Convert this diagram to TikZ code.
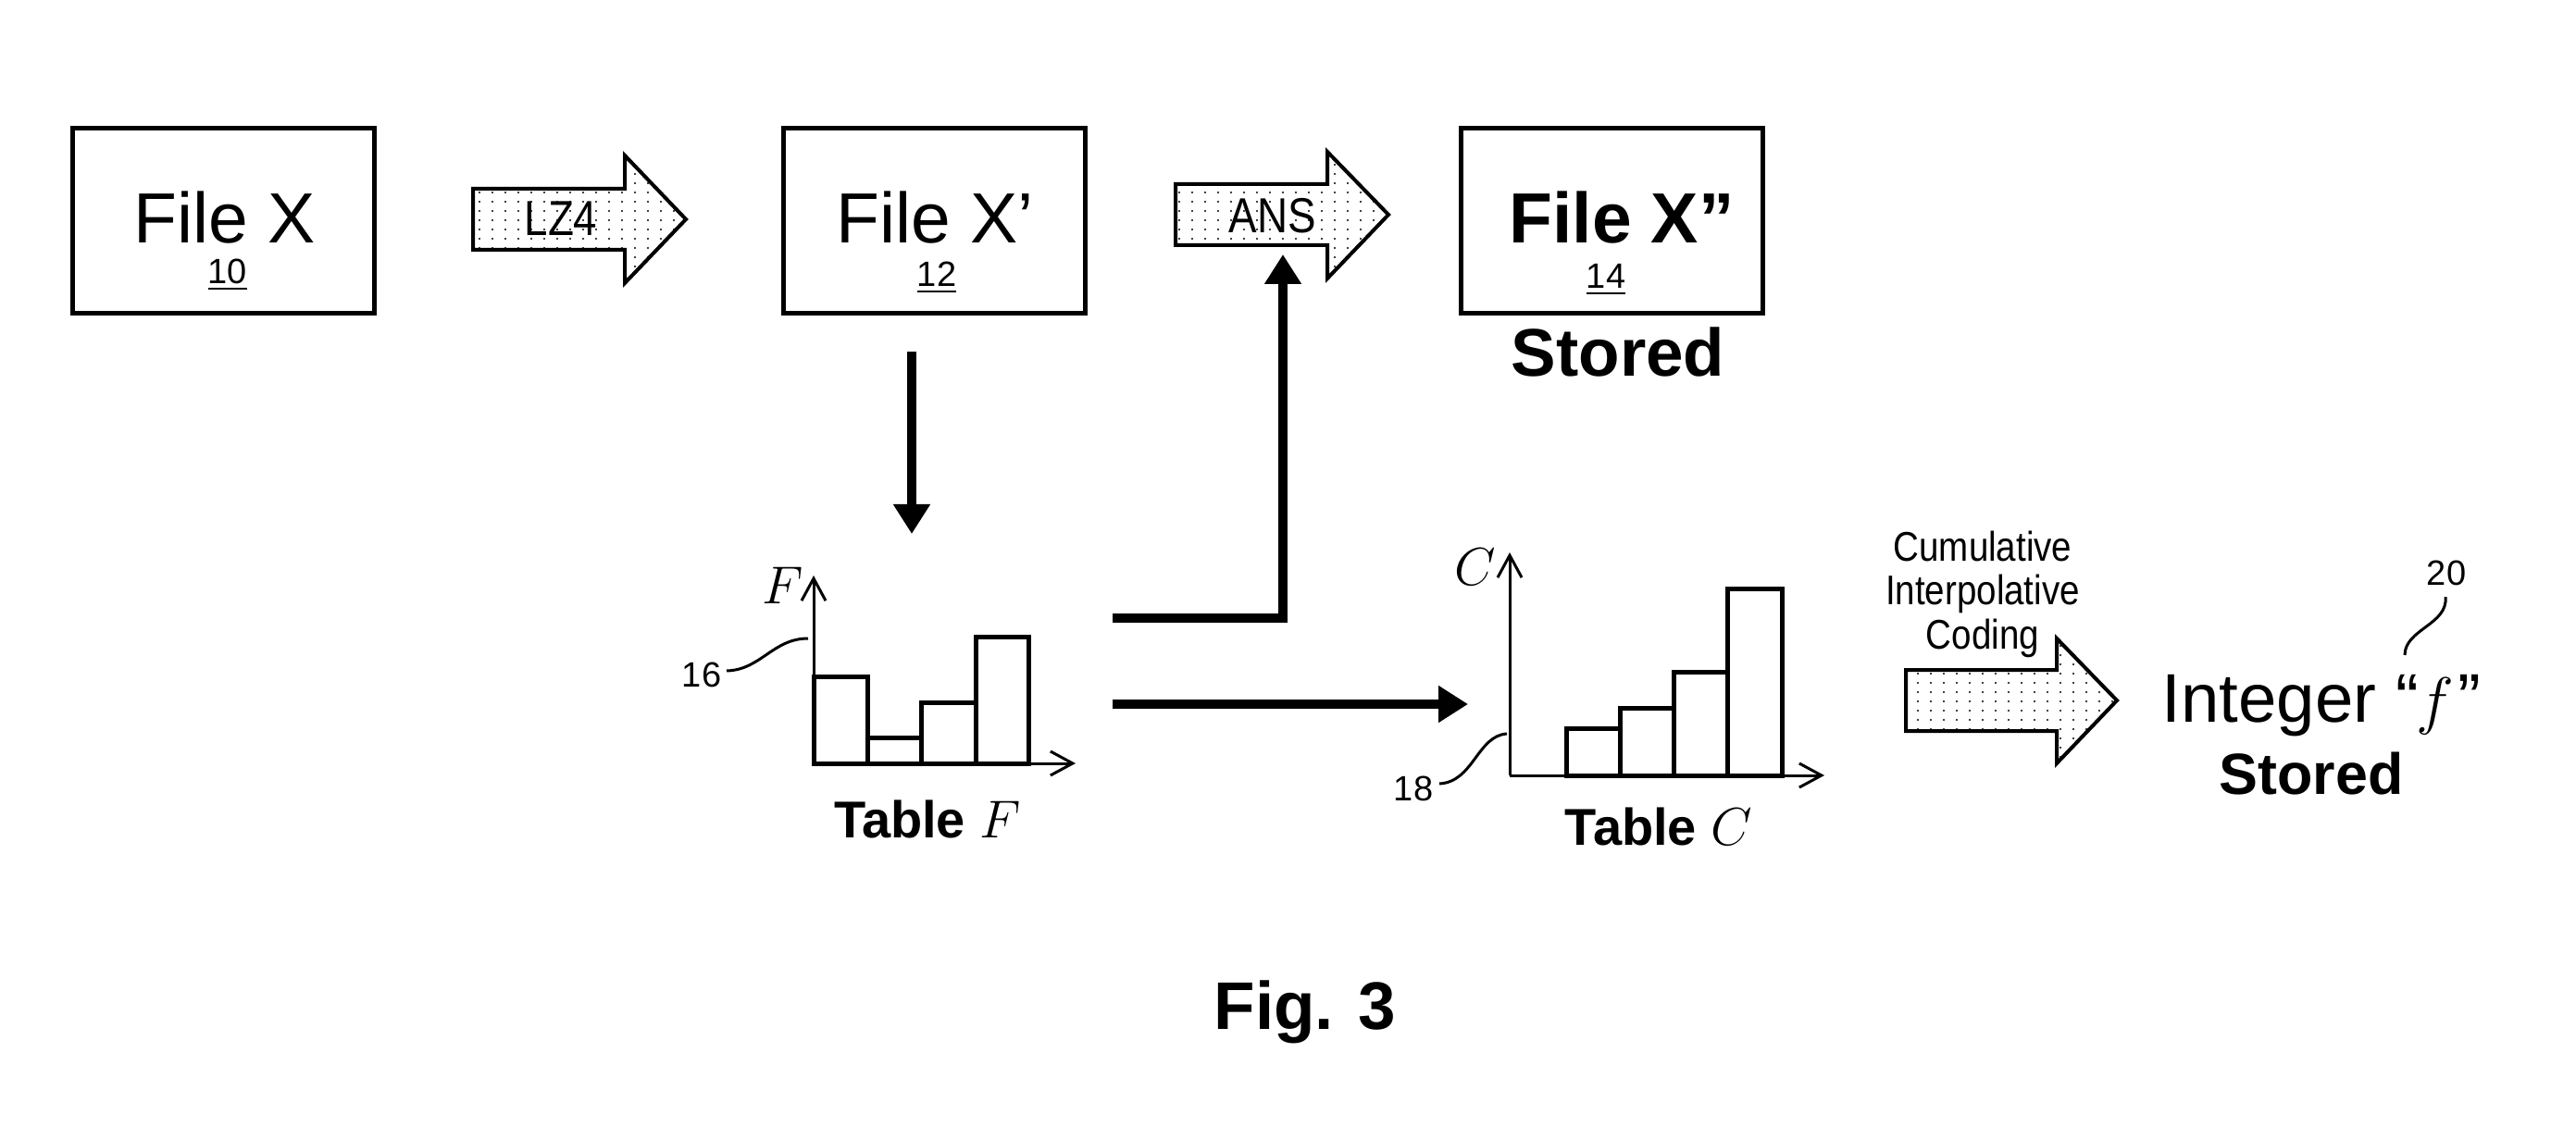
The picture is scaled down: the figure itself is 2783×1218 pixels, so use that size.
\documentclass[tikz,border=0pt]{standalone}
\usepackage{fontspec}
\setmainfont{Liberation Sans}
\newfontfamily\narrowfont{Liberation Sans}[FakeStretch=0.86]
\usetikzlibrary{arrows.meta,patterns}
\pgfdeclarepatternformonly{sparsedots}{\pgfqpoint{-0.5pt}{-0.5pt}}{\pgfqpoint{3pt}{2pt}}{\pgfqpoint{3.5pt}{2.5pt}}{\pgfpathcircle{\pgfqpoint{0pt}{0pt}}{0.3pt}\pgfusepath{fill}}
\newcommand\refnum[1]{\setbox0\hbox{#1}\rlap{\rule[-1.6pt]{\wd0}{0.7pt}}\box0}
\begin{document}
\begin{tikzpicture}[x=0.25pt,y=-0.25pt,
  box/.style={draw,line width=1.25pt,minimum width=81.5pt,minimum height=50pt,inner sep=0pt},
  big/.style={font=\fontsize{19.2}{23}\selectfont,inner sep=0pt,anchor=base},
  bigb/.style={font=\fontsize{19.2}{23}\selectfont\bfseries,inner sep=0pt,anchor=base},
  stored/.style={font=\fontsize{18.2}{22}\selectfont\bfseries,inner sep=0pt,anchor=base},
  refn/.style={font=\fontsize{9.5}{11}\selectfont,inner sep=0pt,anchor=base},
  blockarrow/.style={draw,line width=1pt,pattern=sparsedots,pattern color=black,line join=miter},
  arrtext/.style={font=\narrowfont\fontsize{13.3}{16}\selectfont,inner sep=0pt,anchor=base},
  flow/.style={line width=2.3pt,line join=miter,-{Triangle[length=8pt,width=9.5pt]}},
  axis/.style={line width=0.75pt,-{Straight Barb[length=6pt,width=6.5pt]}},
  bar/.style={line width=1.25pt},
  lead/.style={line width=0.75pt},
  tlabel/.style={font=\fontsize{14}{17}\selectfont\bfseries,inner sep=0pt,anchor=base},
  axlabel/.style={font=\fontsize{14.3}{17}\selectfont,inner sep=0pt,anchor=base}
]
\useasboundingbox (0,0) rectangle (2783,1218);

% --- top row boxes
\node[box] (bx1) at (241.5,238.5) {};
\node[box] (bx2) at (1009,238.5) {};
\node[box] (bx3) at (1741,238.5) {};
\node[big] (tx1) at (243,263) {File X};
\node[refn] (r10) at (246,307) {\refnum{10}};
\node[big] (tx2) at (1010,263) {File X’};
\node[refn] (r12) at (1012,310) {\refnum{12}};
\node[bigb] (tx3) at (1752,263) {File X”};
\node[refn] (r14) at (1735,312) {\refnum{14}};
\node[stored] (st1) at (1748,407) {Stored};

% --- block arrows
\path[blockarrow] (511,204) -- (675,204) -- (675,168) -- (741,237) -- (675,306) -- (675,270) -- (511,270) -- cycle;
\node[arrtext] (lz4) at (606,255) {LZ4};
\path[blockarrow] (1270,199) -- (1434,199) -- (1434,164) -- (1500,232) -- (1434,301) -- (1434,265) -- (1270,265) -- cycle;
\node[arrtext] (ans) at (1375,252) {ANS};
\path[blockarrow] (2059,724) -- (2222,724) -- (2222,690) -- (2287,757) -- (2222,825) -- (2222,790) -- (2059,790) -- cycle;
\node[font=\narrowfont\fontsize{11.2}{11.9}\selectfont,align=center,inner sep=0pt,anchor=north] (cic) at (2142,573) {Cumulative\\Interpolative\\Coding};

% --- flow connectors
\coordinate (d1) at (985,380);
\coordinate (d2) at (985,577);
\draw[flow] (d1) -- (d2);
\coordinate (u1) at (1202,668);
\coordinate (u2) at (1386,275);
\draw[flow] (u1) -| (u2);
\coordinate (h1) at (1202,761);
\coordinate (h2) at (1586,761);
\draw[flow] (h1) -- (h2);

% --- Table F
\draw[bar] (879,825) rectangle (937,731);
\draw[bar] (937,825) rectangle (995,797);
\draw[bar] (995,825) rectangle (1054,759);
\draw[bar] (1054,825) rectangle (1111,688);
\draw[axis] (879,825) -- (879,622);
\draw[axis] (879,825) -- (1162,825);
\node[axlabel] (fl) at (846,652) {$F$};
\node[refn] (r16) at (758,742) {16};
\draw[lead] (785,725) .. controls (822,724) and (835,690) .. (873,690);
\node[tlabel] (tf) at (1002,905) {Table $F$};

% --- Table C
\draw[bar] (1692,838) rectangle (1750,787);
\draw[bar] (1750,838) rectangle (1808,765);
\draw[bar] (1808,838) rectangle (1866,726);
\draw[bar] (1866,838) rectangle (1925,636);
\draw[axis] (1631,838) -- (1631,597);
\draw[axis] (1631,838) -- (1971,838);
\node[axlabel] (cl) at (1594,632) {$C$};
\node[refn] (r18) at (1527,865) {18};
\draw[lead] (1555,847) .. controls (1592,845) and (1596,795) .. (1628,793);
\node[tlabel] (tc) at (1792,913) {Table $C$};

% --- result
\node[font=\fontsize{18.6}{22}\selectfont,inner sep=0pt,anchor=base west] (intf) at (2335,780) {Integer “\kern-0.5pt$f$\kern1pt”};
\node[font=\fontsize{15.7}{19}\selectfont\bfseries,inner sep=0pt,anchor=base] (st2) at (2497,858) {Stored};
\node[refn] (r20) at (2643,632) {20};
\draw[lead] (2642,645) .. controls (2645,675) and (2598,680) .. (2598,708);

% --- caption
\node[stored] (fig) at (1410,1112) {Fig. 3};
\end{tikzpicture}
\end{document}
